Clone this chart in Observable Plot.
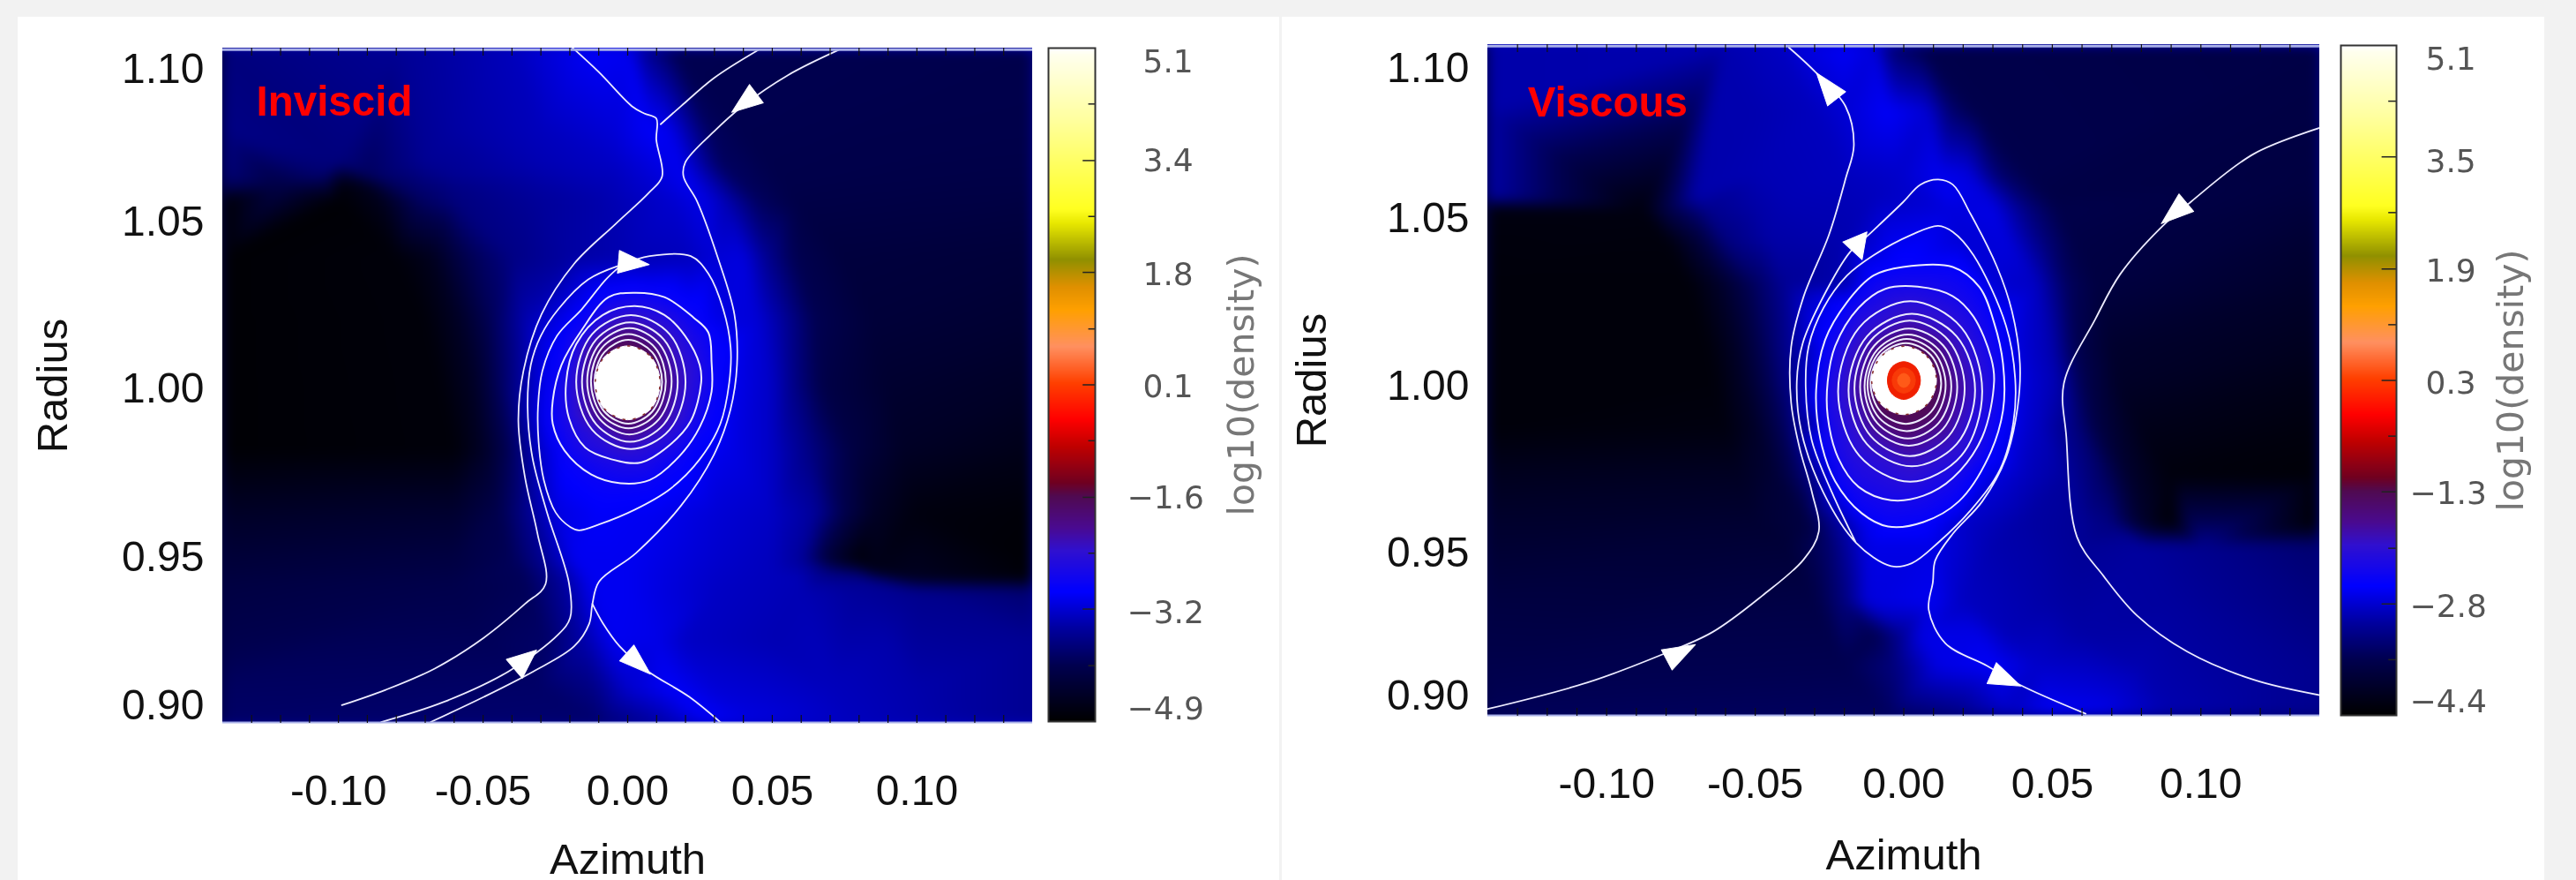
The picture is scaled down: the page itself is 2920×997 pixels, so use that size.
<!DOCTYPE html>
<html><head><meta charset="utf-8">
<script src="https://cdn.jsdelivr.net/npm/d3@7"></script>
<script src="https://cdn.jsdelivr.net/npm/@observablehq/plot@0.6"></script>
<style>
html,body{margin:0;padding:0;width:2920px;height:997px;overflow:hidden;background:#f2f2f2}
.card{position:absolute;background:#fff;top:19px;height:978px}
.abs{position:absolute;overflow:visible;filter:blur(.6px)}
.panel image{filter:blur(7px)}
</style></head><body>
<div class="card" style="left:20px;width:1430px"></div>
<div class="card" style="left:1453px;width:1431px"></div>
<script>
// ---- colour bar ----
const barStops=[0,.0845,.139,.193,.254,.288,.335,.355,.409,.449,.503,.557,.611,.645,.686,.74,.76,.828,.895,.99,1];
const barColors=["#000000","#000050","#0000a0","#0000ff","#3010d0","#4a0a90","#500a50","#700020","#c00000","#ff0000","#ff4000","#ff9060","#ffa000","#e09000","#909000","#e8e800","#ffff20","#ffff60","#ffffa0","#ffffee","#ffffff"];

// ---- axes ----
const azTicks=[-.10,-.05,0,.05,.10];
const azLabels=["-0.10","-0.05","0.00","0.05","0.10"];
const azMinor=[-.13,-.12,-.11,-.10,-.09,-.08,-.07,-.06,-.05,-.04,-.03,-.02,-.01,0,.01,.02,.03,.04,.05,.06,.07,.08,.09,.10,.11,.12,.13];
const radLabels=["1.10","1.05","1.00","0.95","0.90"];
const inviscidRadSpots=[1.0993,1.0514,.9990,.9461,.8994];
const viscousRadSpots=[1.0985,1.0511,.9982,.9454,.9003];

const inviscidBarLabels=["5.1","3.4","1.8","0.1","\u22121.6","\u22123.2","\u22124.9"];
const inviscidBarSpots=[4.89,3.42,1.73,.07,-1.59,-3.29,-4.72];
const inviscidBarMajor=[3.43,1.77,.1,-1.57,-3.23];
const inviscidBarMinor=[4.27,2.6,.93,-.73,-2.4,-4.07];
const viscousBarLabels=["5.1","3.5","1.9","0.3","\u22121.3","\u22122.8","\u22124.4"];
const viscousBarSpots=[4.90,3.45,1.90,.306,-1.26,-2.86,-4.21];
const viscousBarMajor=[3.52,1.93,.35,-1.23,-2.82];
const viscousBarMinor=[4.31,2.73,1.14,-.44,-2.03,-3.61];

// ---- inviscid density: radius, then azimuth,log10(density) pairs ----
const inviscidRows=[
[1.106,[-.14,-3.75,-.08,-3.6,-.04,-3.35,-.025,-3.15,-.012,-3.0,0,-3.05,.006,-3.6,.016,-4.05,.14,-4.1]],
[1.08,[-.14,-3.7,-.06,-3.5,-.03,-3.35,-.005,-3.2,.008,-3.0,.014,-3.05,.02,-3.4,.028,-3.95,.04,-4.08,.14,-4.12]],
[1.07,[-.14,-3.75,-.10,-3.75,-.07,-3.6,-.03,-3.4,-.005,-3.3,.012,-3.1,.018,-3.05,.024,-3.4,.032,-3.95,.14,-4.14]],
[1.066,[-.14,-3.8,-.105,-3.85,-.098,-4.4,-.09,-3.95,-.06,-3.6,-.03,-3.45,-.005,-3.35,.012,-3.15,.02,-3.05,.027,-3.4,.036,-3.95,.14,-4.15]],
[1.0625,[-.14,-4.0,-.12,-4.15,-.10,-4.8,-.09,-4.6,-.08,-3.95,-.06,-3.7,-.03,-3.5,-.01,-3.4,.012,-3.2,.022,-3.05,.03,-3.4,.04,-3.95,.055,-4.12,.14,-4.17]],
[1.058,[-.14,-4.85,-.10,-4.85,-.085,-4.6,-.072,-3.95,-.06,-3.75,-.03,-3.55,-.01,-3.45,.015,-3.25,.026,-3.1,.034,-3.4,.045,-3.95,.058,-4.15,.14,-4.2]],
[1.04,[-.14,-4.85,-.08,-4.8,-.068,-4.6,-.055,-4.05,-.04,-3.7,-.02,-3.5,0,-3.4,.02,-3.35,.03,-3.2,.04,-3.15,.048,-3.6,.058,-4.05,.075,-4.25,.14,-4.3]],
[1.02,[-.14,-4.85,-.07,-4.8,-.058,-4.5,-.047,-4.0,-.035,-3.4,-.022,-3.05,.028,-3.05,.035,-3.15,.045,-3.2,.053,-3.5,.065,-4.05,.085,-4.3,.14,-4.38]],
[1.0,[-.14,-4.85,-.065,-4.8,-.053,-4.5,-.044,-3.95,-.03,-3.15,.035,-3.05,.05,-3.3,.058,-3.7,.068,-4.15,.09,-4.4,.14,-4.5]],
[.98,[-.14,-4.85,-.06,-4.8,-.05,-4.5,-.04,-3.95,-.03,-3.25,-.025,-3.05,.025,-3,.035,-3.1,.05,-3.3,.063,-3.7,.078,-4.2,.095,-4.5,.14,-4.65]],
[.96,[-.14,-4.5,-.06,-4.4,-.045,-4.1,-.035,-3.65,-.025,-3.15,-.01,-3,.01,-3.05,.03,-3.2,.05,-3.3,.065,-3.55,.075,-4.1,.085,-4.5,.10,-4.75,.14,-4.82]],
[.945,[-.14,-4.3,-.06,-4.2,-.04,-4,-.028,-3.55,-.018,-3.05,-.005,-3.05,.03,-3.25,.05,-3.35,.06,-3.55,.07,-4.35,.08,-4.8,.14,-4.85]],
[.942,[-.14,-4.27,-.06,-4.17,-.037,-4,-.025,-3.55,-.015,-3.05,0,-3.05,.03,-3.27,.05,-3.35,.07,-3.75,.085,-4.65,.14,-4.85]],
[.9395,[-.14,-4.23,-.06,-4.13,-.036,-4,-.023,-3.55,-.013,-3.05,0,-3.05,.03,-3.28,.06,-3.38,.082,-3.65,.10,-4.55,.14,-4.8]],
[.936,[-.14,-4.2,-.06,-4.1,-.035,-4,-.022,-3.55,-.012,-3.05,0,-3.05,.03,-3.3,.06,-3.4,.08,-3.55,.10,-3.65,.14,-3.85]],
[.92,[-.14,-4.1,-.05,-4,-.028,-3.9,-.015,-3.45,-.005,-3.05,.01,-3.1,.02,-3.3,.05,-3.4,.09,-3.45,.14,-3.6]],
[.905,[-.14,-3.95,-.03,-3.9,-.012,-3.7,0,-3.25,.015,-3,.03,-3.2,.07,-3.35,.10,-3.45,.14,-3.6]],
[.894,[-.14,-3.9,-.01,-3.85,.01,-3.5,.03,-3,.045,-3.15,.08,-3.35,.14,-3.6]]
];

// ---- viscous density ----
const viscousRows=[
[1.106,[-.14,-3.03,-.06,-3.0,-.042,-2.9,-.035,-2.75,-.02,-2.6,-.01,-2.75,-.004,-3.4,.006,-3.65,.14,-3.7]],
[1.085,[-.14,-3.03,-.05,-3.0,-.03,-2.92,-.02,-2.8,-.005,-2.6,.008,-2.8,.016,-3.4,.025,-3.65,.14,-3.72]],
[1.065,[-.14,-3.03,-.05,-2.98,-.02,-2.92,-.002,-2.85,.012,-2.65,.022,-2.75,.032,-3.4,.042,-3.65,.14,-3.75]],
[1.058,[-.14,-3.05,-.07,-3.02,-.04,-2.97,-.01,-2.92,.015,-2.65,.028,-2.75,.04,-3.4,.05,-3.7,.14,-3.78]],
[1.054,[-.14,-4.25,-.088,-4.25,-.08,-3.7,-.066,-3.2,-.05,-3.05,-.02,-2.97,.015,-2.75,.03,-2.7,.042,-3.3,.052,-3.65,.14,-3.82]],
[1.044,[-.14,-4.28,-.08,-4.28,-.07,-3.85,-.06,-3.3,-.045,-3.05,-.02,-3,.02,-2.8,.035,-2.75,.048,-3.35,.058,-3.7,.14,-3.9]],
[1.03,[-.14,-4.3,-.072,-4.3,-.062,-4,-.05,-3.5,-.04,-3.15,-.02,-3,.03,-2.8,.045,-2.9,.055,-3.5,.065,-3.75,.14,-3.98]],
[1.01,[-.14,-4.3,-.066,-4.3,-.056,-4,-.046,-3.5,-.036,-3.05,-.03,-2.8,.038,-2.75,.05,-3,.058,-3.6,.07,-3.95,.14,-4.1]],
[1.0,[-.14,-4.3,-.064,-4.3,-.054,-4,-.044,-3.5,-.034,-3,.04,-2.75,.052,-3,.06,-3.6,.072,-4,.14,-4.18]],
[.985,[-.14,-4.3,-.06,-4.25,-.05,-4,-.04,-3.5,-.03,-3,.04,-2.8,.045,-2.9,.058,-3.3,.066,-3.75,.08,-4.15,.14,-4.27]],
[.97,[-.14,-4.1,-.055,-4.05,-.043,-3.85,-.033,-3.35,-.026,-2.85,.03,-2.75,.04,-2.9,.055,-3.1,.068,-3.5,.076,-3.95,.09,-4.28,.14,-4.33]],
[.955,[-.14,-3.95,-.05,-3.9,-.033,-3.75,-.024,-3.2,-.014,-2.7,.02,-2.85,.04,-3.05,.06,-3.15,.07,-3.3,.08,-3.95,.09,-4.35,.14,-4.38]],
[.948,[-.14,-3.9,-.04,-3.85,-.025,-3.4,-.012,-2.7,.01,-2.7,.03,-3,.06,-3.15,.08,-3.1,.10,-3.2,.14,-3.4]],
[.93,[-.14,-3.75,-.03,-3.7,-.02,-3.3,-.012,-2.75,.01,-2.65,.02,-2.9,.05,-3.05,.09,-3.1,.14,-3.3]],
[.92,[-.14,-3.7,-.01,-3.6,0,-3.1,.006,-2.7,.025,-2.7,.035,-2.95,.06,-3.05,.14,-3.25]],
[.91,[-.14,-3.65,-.02,-3.6,-.003,-3.3,.012,-2.7,.03,-2.6,.045,-2.85,.08,-3,.14,-3.2]],
[.894,[-.14,-3.55,-.005,-3.5,.015,-3.3,.035,-2.9,.05,-2.6,.065,-2.65,.09,-3,.14,-3.2]]
];

// ---- inviscid closed contours: azimuth, radius pairs ----
const inviscidRingLevels=[-2.85,-2.6,-2.4,-2.2,-2.05,-1.85,-1.6];
const inviscidRings=[
[.0025,1.0292,.0127,1.0278,.0229,1.0213,.0279,1.0167,.0290,1.0074,.0290,.9981,.0249,.9870,.0178,.9778,.0076,.9704,-.0025,.9694,-.0127,.9722,-.0218,.9796,-.0259,.9880,-.0259,.9954,-.0229,1.0065,-.0158,1.0176,-.0066,1.0278],
[.0025,1.0250,.0127,1.0222,.0198,1.0157,.0249,1.0065,.0254,1.0009,.0218,.9889,.0147,.9815,.0046,.9759,-.0056,.9769,-.0147,.9806,-.0203,.9898,-.0213,1.0009,-.0178,1.0130,-.0086,1.0222],
[.0011,1.0222,.0145,1.0162,.0200,1.0012,.0145,.9862,.0011,.9801,-.0123,.9862,-.0178,1.0012,-.0123,1.0162],
[.0008,1.0199,.0125,1.0145,.0173,1.0012,.0125,.9879,.0008,.9824,-.0109,.9879,-.0158,1.0012,-.0109,1.0145],
[.0006,1.0181,.0109,1.0132,.0152,1.0014,.0109,.9896,.0006,.9847,-.0097,.9896,-.0140,1.0014,-.0097,1.0132],
[.0003,1.0162,.0095,1.0119,.0132,1.0014,.0095,.9909,.0003,.9866,-.0089,.9909,-.0127,1.0014,-.0089,1.0119],
[.0002,1.0144,.0085,1.0105,.0119,1.0012,.0085,.9919,.0002,.9881,-.0081,.9919,-.0115,1.0012,-.0081,1.0105]
];
const inviscidCore=[0,1.0125,.0082,1.0089,.0112,1.0009,.0082,.9929,0,.9893,-.0082,.9929,-.0112,1.0009,-.0082,1.0089];

// ---- inviscid streamlines ----
const inviscidLines=[
[-.0193,1.1063,-.0099,1.0984,.0014,1.0878,.0057,1.0855,.0099,1.0839,.0099,1.0772,.0119,1.0657,.0071,1.0604,-.0043,1.0507,-.0185,1.0383,-.0298,1.0224,-.0360,1.0048,-.0378,.9889,-.0355,.9712,-.0312,.9536,-.0284,.9377,-.0355,.9315,-.0497,.9209,-.0667,.9112,-.0837,.9045,-.0988,.8997],
[.0451,1.1054,.0298,1.0966,.0185,1.0878,.0114,1.0821],
[.0729,1.1054,.0554,1.0975,.0397,1.0878,.0298,1.0798,.0199,1.0701,.0193,1.0657,.0241,1.0577,.0312,1.0401,.0369,1.0224,.0378,1.0065,.0355,.9924,.0298,.9783,.0185,.9624,.0028,.9474,-.0099,.9385,-.0122,.9315,-.0133,.9253,-.0185,.9182,-.0326,.9103,-.0497,.9023,-.0681,.8944],
[-.0122,.9315,-.0085,.9253,-.0028,.9182,.0071,.9103,.0213,.9023,.0326,.8939],
[-.0036,1.0375,-.0137,1.0333,-.0239,1.0241,-.0300,1.0157,-.0335,1.0065,-.0346,.9935,-.0330,.9778,-.0279,.9602,-.0203,.9380,-.0199,.9271,-.0241,.9218,-.0412,.9103,-.0639,.9006,-.0852,.8944],
[-.0020,1.0380,.0076,1.0407,.0218,1.0407,.0279,1.0352,.0330,1.0241,.0356,1.0120,.0351,1.0009,.0320,.9880,.0249,.9769,.0147,.9676,.0025,.9611,-.0097,.9565,-.0168,.9546,-.0198,.9556,-.0249,.9602,-.0290,.9704,-.0308,.9824,-.0310,.9935,-.0295,1.0046,-.0244,1.0157,-.0158,1.0241,-.0076,1.0333,-.0020,1.0380]
];
const inviscidArrows=[[.0445,1.0917,233,35,13],[-.0032,1.0389,95,35,13],[-.0392,.9111,50,33,14],[-.0003,.9161,132,36,12]];

// ---- viscous closed contours ----
const viscousRingLevels=[-2.5,-2.3,-2.1,-1.95,-1.85,-1.7,-1.55,-1.4,-1.25];
const viscousRings=[
[-.0003,1.0358,.0165,1.0358,.0255,1.0294,.0304,1.0182,.0334,1.0053,.0334,.9905,.0284,.9756,.0185,.9618,.0066,.9553,-.0053,.9539,-.0142,.9581,-.0231,.9682,-.0280,.9812,-.0295,.9969,-.0265,1.0127,-.0191,1.0247,-.0102,1.0331],
[.0047,1.0296,.0165,1.0266,.0235,1.0201,.0294,1.0071,.0304,.9997,.0264,.9821,.0165,.9692,.0066,.9636,-.0043,.9622,-.0152,.9664,-.0221,.9756,-.0256,.9886,-.0256,.9997,-.0231,1.0108,-.0152,1.0229,-.0062,1.0289],
[.0022,1.0250,.0194,1.0167,.0264,.9965,.0194,.9763,.0022,.9680,-.0150,.9763,-.0221,.9965,-.0150,1.0167],
[.0027,1.0210,.0178,1.0139,.0240,.9969,.0178,.9799,.0027,.9729,-.0124,.9799,-.0186,.9969,-.0124,1.0139],
[.0020,1.0189,.0151,1.0126,.0205,.9975,.0151,.9824,.0020,.9761,-.0111,.9824,-.0166,.9975,-.0111,1.0126],
[.0017,1.0164,.0133,1.0110,.0180,.9979,.0133,.9848,.0017,.9794,-.0099,.9848,-.0147,.9979,-.0099,1.0110],
[.0014,1.0145,.0117,1.0097,.0160,.9981,.0117,.9865,.0014,.9817,-.0089,.9865,-.0132,.9981,-.0089,1.0097],
[.0010,1.0131,.0103,1.0088,.0141,.9985,.0103,.9882,.0010,.9840,-.0083,.9882,-.0122,.9985,-.0083,1.0088],
[.0007,1.0118,.0091,1.0080,.0126,.9990,.0091,.9900,.0007,.9863,-.0077,.9900,-.0112,.9990,-.0077,1.0080]
];
const viscousCore=[.0001,1.0108,.0078,1.0076,.0110,1.0000,.0078,.9924,.0001,.9892,-.0076,.9924,-.0108,1.0000,-.0076,1.0076];
const viscousRed=[0,1.0059,.0040,1.0042,.0056,1.0,.0040,.9958,0,.9940,-.0040,.9958,-.0055,1.0,-.0040,1.0042];
const viscousMid=[0,1.0040,.0028,1.0028,.0039,1.0,.0028,.9972,0,.9960,-.0028,.9972,-.0039,1.0,-.0028,1.0028];
const viscousOrange=[0,1.0022,.0015,1.0015,.0021,1.0,.0015,.9985,0,.9978,-.0015,.9985,-.0021,1.0,-.0015,1.0015];

// ---- viscous streamlines ----
const viscousLines=[
[-.0387,1.1051,-.0295,1.0971,-.0196,1.0865,-.0168,1.0742,-.0196,1.0636,-.0252,1.0459,-.0337,1.0265,-.0379,1.0106,-.0379,.9929,-.0351,.9788,-.0309,.9647,-.0286,.9523,-.0337,.9435,-.0477,.9320,-.0645,.9205,-.0813,.9135,-.1066,.9046,-.1400,.8963],
[.1403,1.0798,.1178,1.0715,.0968,1.0565,.0862,1.0479,.0729,1.0336,.0645,1.0194,.0539,.9991,.0547,.9823,.0583,.9506,.0673,.9382,.0785,.9258,.0954,.9144,.1178,.9055,.1403,.9006],
[.0612,.8948,.0393,.9038,.0281,.9099,.0140,.9170,.0084,.9276,.0098,.9364,.0106,.9432,.0165,.9516,.0264,.9618,.0344,.9756,.0383,.9914,.0391,1.0053,.0364,1.0219,.0314,1.0358,.0225,1.0525,.0165,1.0618,.0116,1.0634,.0056,1.0618,-.0003,1.0562,-.0112,1.0465,-.0181,1.0405,-.0270,1.0266,-.0340,1.0118,-.0360,.9997,-.0345,.9840,-.0270,.9645,-.0161,.9488,-.0043,.9414,.0027,.9423,.0116,.9488,.0225,.9590,.0324,.9719,.0369,.9868,.0375,1.0006,.0344,1.0173,.0235,1.0395,.0165,1.0469,.0116,1.0488,.0027,1.0460,-.0102,1.0395,-.0191,1.0331,-.0270,1.0229,-.0320,1.0108,-.0330,.9979,-.0310,.9812,-.0241,.9645,-.0161,.9488]
];
const viscousArrows=[[-.0226,1.0889,-38,37,13],[-.0132,1.0425,-80,25,16],[.0951,1.0561,230,37,13],[-.0798,.9118,62,37,13],[.0296,.9076,114,36,13]];

// ---- helpers ----
const colorOf=(lo,hi)=>({type:"linear",domain:barStops.map(f=>lo+f*(hi-lo)),range:barColors,interpolate:"rgb",clamp:true});
const pairs=(a,z)=>{const o=[];for(let i=0;i<a.length;i+=2)o.push({az:a[i],r:a[i+1],z});return o};
const wedge=w=>({draw(c,l){c.moveTo(-w,0);c.lineTo(0,-l);c.lineTo(w,0);c.closePath()}});
const LINE="#ecebff";

function panel(o){
  const samples=[];
  o.rows.forEach(([r,p])=>{for(let i=0;i<p.length;i+=2)samples.push({az:p[i],r,v:p[i+1]})});
  o.rings.forEach((ring,k)=>pairs(ring).forEach(d=>samples.push({az:d.az,r:d.r,v:o.levels[k]})));
  const rings=o.rings.flatMap((a,k)=>pairs(a,k));
  const lines=o.lines.flatMap((a,k)=>pairs(a,k));
  const arrows=o.arrows.map(([az,r,rot,len,w])=>({az,r,rot,len,w}));
  const lab=new Map(o.radSpots.map((d,i)=>[d,radLabels[i]]));
  const xl=new Map(azTicks.map((d,i)=>[d,azLabels[i]]));
  const solid=(a,fill)=>Plot.line(pairs(a),{x:"az",y:"r",curve:"catmull-rom-closed",fill,stroke:fill,strokeWidth:1});
  const plot=Plot.plot({
    className:"panel",width:o.w,height:o.h,marginLeft:o.ml,marginRight:o.w-o.ml-o.fw,marginTop:o.mt,marginBottom:o.h-o.mt-o.fh,
    style:{fontFamily:"'Liberation Sans',Arial,sans-serif",background:"transparent",color:"#111",overflow:"visible"},
    x:{domain:[-.14,.14]},y:{domain:[.894,1.106]},color:colorOf(o.lo,o.hi),
    marks:[
      Plot.raster(samples,{x:"az",y:"r",fill:"v",x1:-.15,x2:.15,y1:.884,y2:1.116,interpolate:"barycentric",clip:true}),
      Plot.line(rings,{x:"az",y:"r",z:"z",curve:"catmull-rom-closed",stroke:LINE,strokeWidth:2}),
      Plot.line(lines,{x:"az",y:"r",z:"z",curve:"catmull-rom",stroke:LINE,strokeWidth:1.8,clip:true}),
      solid(o.core,"#fff"),
      Plot.line(pairs(o.core),{x:"az",y:"r",curve:"catmull-rom-closed",stroke:"#8a3030",strokeWidth:1.6,strokeDasharray:"2 10"}),
      ...(o.red?[solid(o.red,"#f02000"),solid(o.mid,"#f83a08"),solid(o.orange,"#ff5a18")]:[]),
      ...arrows.map(a=>Plot.vector([a],{x:"az",y:"r",rotate:"rot",length:a.len,shape:wedge(a.w),anchor:"start",fill:"#fff",stroke:"#fff",strokeWidth:1})),
      Plot.ruleY([1.1055],{stroke:"#a8b0e8",strokeWidth:3}),
      Plot.ruleY([.8943],{stroke:"#a8b0e8",strokeWidth:2}),
      Plot.ruleX(azMinor,{y1:1.106,y2:1.1035,stroke:"#111",strokeWidth:1.2}),
      Plot.ruleX(azMinor,{y1:.894,y2:.8965,stroke:"#111",strokeWidth:1.2}),
      Plot.axisX(azTicks,{tickSize:0,tickPadding:o.xPad,fontSize:48,tickFormat:d=>xl.get(d),label:null}),
      Plot.axisY(o.radSpots,{tickSize:0,tickPadding:21,fontSize:48,tickFormat:d=>lab.get(d),label:null}),
      Plot.text(["Azimuth"],{frameAnchor:"bottom",dy:o.azY,fontSize:49,lineAnchor:"middle",fill:"#111"}),
      Plot.text(["Radius"],{frameAnchor:"left",dx:o.radX,fontSize:49,rotate:-90,textAnchor:"middle",lineAnchor:"middle",fill:"#111"}),
      Plot.text([o.title],{x:o.tx,y:o.ty,textAnchor:"start",lineAnchor:"bottom",fontSize:47.5,fontWeight:"bold",fill:"#ff0000"})
    ]
  });
  plot.setAttribute("class",plot.getAttribute("class")+" abs");
  plot.style.left=o.x+"px";plot.style.top=o.y+"px";
  document.body.appendChild(plot);
}
function colorbar(o){
  const plot=Plot.plot({
    width:o.w,height:o.h,marginLeft:o.ml,marginRight:o.w-o.ml-o.bw,marginTop:o.mt,marginBottom:o.h-o.mt-o.bh,
    style:{fontFamily:"'DejaVu Sans',sans-serif",background:"transparent",overflow:"visible"},
    x:{domain:[0,1],axis:null},y:{domain:[o.lo,o.hi],axis:null},color:colorOf(o.lo,o.hi),
    marks:[
      Plot.raster({fill:(x,y)=>y,x1:0,x2:1,y1:o.lo,y2:o.hi,pixelSize:1}),
      Plot.ruleY(o.major,{x1:.74,x2:1,stroke:"#222",strokeWidth:1.5}),
      Plot.ruleY(o.minor,{x1:.86,x2:1,stroke:"#222",strokeWidth:1.5}),
      Plot.frame({stroke:"#333",strokeWidth:2}),
      ...o.labels.map((t,i)=>Plot.text([t],{frameAnchor:"left",y:()=>o.spots[i],dx:o.labX+(t[0]==="\u2212"?-18:0),textAnchor:"start",lineAnchor:"middle",fontSize:36,fill:"#555"})),
      Plot.text(["log10(density)"],{frameAnchor:"left",dx:o.titleX,fontSize:41,rotate:-90,textAnchor:"middle",lineAnchor:"middle",fill:"#777"})
    ]
  });
  plot.setAttribute("class",plot.getAttribute("class")+" abs");
  plot.style.left=o.x+"px";plot.style.top=o.y+"px";
  document.body.appendChild(plot);
}

panel({x:20,y:19,w:1430,h:978,ml:232,fw:918,mt:35,fh:765,lo:-4.9,hi:5.1,rows:inviscidRows,rings:inviscidRings,levels:inviscidRingLevels,lines:inviscidLines,arrows:inviscidArrows,core:inviscidCore,radSpots:inviscidRadSpots,xPad:58,azY:155,radX:-192,title:"Inviscid",tx:-.1284,ty:1.0847});
colorbar({x:1170,y:30,w:270,h:810,ml:18,bw:53,mt:24,bh:763,lo:-4.9,hi:5.1,labels:inviscidBarLabels,spots:inviscidBarSpots,major:inviscidBarMajor,minor:inviscidBarMinor,labX:107,titleX:219});

panel({x:1453,y:19,w:1431,h:978,ml:233,fw:943,mt:31,fh:761,lo:-4.4,hi:5.1,rows:viscousRows,rings:viscousRings,levels:viscousRingLevels,lines:viscousLines,arrows:viscousArrows,core:viscousCore,red:viscousRed,mid:viscousMid,orange:viscousOrange,radSpots:viscousRadSpots,xPad:58,azY:158,radX:-199,title:"Viscous",tx:-.1266,ty:1.0833});
colorbar({x:2635,y:30,w:270,h:810,ml:18,bw:63,mt:21,bh:759,lo:-4.4,hi:5.1,labels:viscousBarLabels,spots:viscousBarSpots,major:viscousBarMajor,minor:viscousBarMinor,labX:96,titleX:193});
</script></body></html>
